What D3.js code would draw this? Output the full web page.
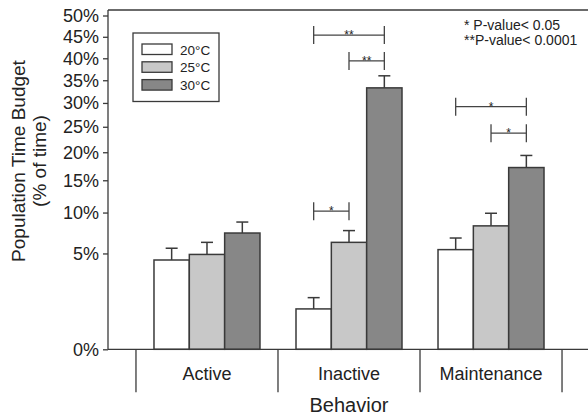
<!DOCTYPE html>
<html>
<head>
<meta charset="utf-8">
<script src="https://cdn.jsdelivr.net/npm/d3@7"></script>
<style>
  body { margin: 0; background: #fff; }
  svg { display: block; font-family: Arial, "Liberation Sans", sans-serif; }
</style>
</head>
<body>
<svg id="chart" width="588" height="419"></svg>
<script>
// behaviour categories and temperature groups
var behaviors = ["Active", "Inactive", "Maintenance"]
var temps = ["20°C", "25°C", "30°C"]
var tempColors = ["#ffffff", "#c8c8c8", "#878787"]

// mean % of time per temperature (one value per behaviour)
var mean20 = [4.35, 0.9, 5.4]
var mean25 = [4.9, 6.2, 8.2]
var mean30 = [7.3, 33.3, 17.2]
// upper error bar end (mean + SE)
var upper20 = [5.55, 1.47, 6.7]
var upper25 = [6.2, 7.6, 9.9]
var upper30 = [8.7, 36.0, 19.4]

var yTicks = [0, 5, 10, 15, 20, 25, 30, 35, 40, 45, 50]

// significance brackets: behaviour, from temp index, to temp index, level (% of time), label
var brackets = [
  {behavior: "Inactive", from: 0, to: 1, level: 10.2, label: "*"},
  {behavior: "Inactive", from: 0, to: 2, level: 45.4, label: "**"},
  {behavior: "Inactive", from: 1, to: 2, level: 39.4, label: "**"},
  {behavior: "Maintenance", from: 0, to: 2, level: 29.2, label: "*"},
  {behavior: "Maintenance", from: 1, to: 2, level: 23.7, label: "*"}
]
var pNotes = ["* P-value< 0.05", "**P-value< 0.0001"]

var means = [mean20, mean25, mean30]
var uppers = [upper20, upper25, upper30]
var bars = []
behaviors.forEach(function(b, i) {
  temps.forEach(function(t, j) {
    bars.push({behavior: b, temp: t, k: j, value: means[j][i], upper: uppers[j][i]})
  })
})

var svg = d3.select("#chart")
var plotLeft = 108, plotRight = 590, plotBottom = 349.3, plotTop = 15.5, frameTop = 10
var ink = "#3a3a3a"

// arcsine square-root scale
var yLin = d3.scaleLinear()
  .domain([0, Math.asin(Math.sqrt(0.5))])
  .range([plotBottom, plotTop])
function y(p) {
  return yLin(Math.asin(Math.sqrt(p / 100)))
}

var x = d3.scaleBand()
  .domain(behaviors)
  .range([plotLeft, plotRight])
  .paddingInner(0)
  .paddingOuter(0.197)

var x1 = d3.scaleBand()
  .domain(d3.range(temps.length))
  .range([0, 106])

var inner = (x.bandwidth() - x1.range()[1]) / 2

// frame
svg.append("line")
  .attr("x1", plotLeft).attr("x2", plotRight)
  .attr("y1", frameTop).attr("y2", frameTop)
  .attr("stroke", ink).attr("stroke-width", 1.3)

// y axis
var yAxis = d3.axisLeft(yLin)
  .tickValues(yTicks.map(function(p) { return Math.asin(Math.sqrt(p / 100)) }))
  .tickFormat(function(t) { return Math.round(Math.pow(Math.sin(t), 2) * 100) + "%" })
  .tickSize(5)
  .tickPadding(4)
  .tickSizeOuter(0)

var yg = svg.append("g")
  .attr("transform", "translate(" + plotLeft + ",0)")
  .call(yAxis)
yg.select(".domain").remove()
yg.selectAll(".tick line").attr("stroke", ink).attr("stroke-width", 1.3)
yg.selectAll(".tick text")
  .attr("font-size", 18)
  .attr("font-family", "Arial, 'Liberation Sans', sans-serif")
  .attr("fill", "#222")
svg.append("line")
  .attr("x1", plotLeft).attr("x2", plotLeft)
  .attr("y1", frameTop).attr("y2", plotBottom)
  .attr("stroke", ink).attr("stroke-width", 1.3)

// bars
svg.append("g")
  .selectAll("rect")
  .data(bars)
  .enter()
  .append("rect")
  .attr("x", function(d) { return x(d.behavior) + inner + x1(d.k) })
  .attr("width", x1.bandwidth())
  .attr("y", function(d) { return y(d.value) })
  .attr("height", function(d) { return plotBottom - y(d.value) })
  .attr("fill", function(d) { return tempColors[d.k] })
  .attr("stroke", ink)
  .attr("stroke-width", 1.5)

// error bars (upper only)
function barCenter(b, k) {
  return x(b) + inner + x1(k) + x1.bandwidth() / 2
}
var eg = svg.append("g")
  .selectAll("g")
  .data(bars)
  .enter()
  .append("g")
  .attr("stroke", ink)
  .attr("stroke-width", 1.5)
eg.append("line")
  .attr("x1", function(d) { return barCenter(d.behavior, d.k) })
  .attr("x2", function(d) { return barCenter(d.behavior, d.k) })
  .attr("y1", function(d) { return y(d.value) })
  .attr("y2", function(d) { return y(d.upper) })
eg.append("line")
  .attr("x1", function(d) { return barCenter(d.behavior, d.k) - 6 })
  .attr("x2", function(d) { return barCenter(d.behavior, d.k) + 6 })
  .attr("y1", function(d) { return y(d.upper) })
  .attr("y2", function(d) { return y(d.upper) })

// x axis line and category separators
svg.append("line")
  .attr("x1", plotLeft).attr("x2", plotRight)
  .attr("y1", plotBottom).attr("y2", plotBottom)
  .attr("stroke", ink).attr("stroke-width", 1.3)

var seps = behaviors.map(function(b) { return x(b) })
seps.push(x(behaviors[behaviors.length - 1]) + x.bandwidth())
svg.append("g")
  .selectAll("line")
  .data(seps)
  .enter()
  .append("line")
  .attr("x1", function(d) { return d }).attr("x2", function(d) { return d })
  .attr("y1", plotBottom).attr("y2", plotBottom + 43)
  .attr("stroke", ink).attr("stroke-width", 1.3)

svg.append("g")
  .selectAll("text")
  .data(behaviors)
  .enter()
  .append("text")
  .attr("x", function(d) { return x(d) + x.bandwidth() / 2 })
  .attr("y", 379.5)
  .attr("text-anchor", "middle")
  .attr("font-size", 18)
  .attr("fill", "#222")
  .text(function(d) { return d })

svg.append("text")
  .attr("x", (seps[0] + seps[seps.length - 1]) / 2)
  .attr("y", 412)
  .attr("text-anchor", "middle")
  .attr("font-size", 20)
  .attr("fill", "#222")
  .text("Behavior")

// y axis title
var yt = svg.append("text")
  .attr("transform", "translate(0,161) rotate(-90)")
  .attr("text-anchor", "middle")
  .attr("font-size", 19)
  .attr("fill", "#222")
yt.append("tspan").attr("x", 0).attr("y", 25).text("Population Time Budget")
yt.append("tspan").attr("x", 0).attr("y", 46).text("(% of time)")

// significance brackets
var bg = svg.append("g")
  .selectAll("g")
  .data(brackets)
  .enter()
  .append("g")
bg.append("path")
  .attr("d", function(d) {
    var x0 = barCenter(d.behavior, d.from), x2 = barCenter(d.behavior, d.to), yy = y(d.level)
    return "M" + x0 + "," + (yy - 9) + "V" + (yy + 9) +
      "M" + x0 + "," + yy + "H" + x2 +
      "M" + x2 + "," + (yy - 9) + "V" + (yy + 9)
  })
  .attr("fill", "none")
  .attr("stroke", "#444")
  .attr("stroke-width", 1.3)
bg.append("text")
  .attr("x", function(d) { return (barCenter(d.behavior, d.from) + barCenter(d.behavior, d.to)) / 2 })
  .attr("y", function(d) { return y(d.level) + 4 })
  .attr("text-anchor", "middle")
  .attr("font-size", 12)
  .attr("fill", "#222")
  .text(function(d) { return d.label })

// p-value notes
svg.append("g")
  .selectAll("text")
  .data(pNotes)
  .enter()
  .append("text")
  .attr("x", 464)
  .attr("y", function(d, i) { return 30 + i * 15 })
  .attr("font-size", 14)
  .attr("fill", "#222")
  .text(function(d) { return d })

// legend
var lg = svg.append("g").attr("transform", "translate(133,33)")
lg.append("rect")
  .attr("width", 86).attr("height", 68.5)
  .attr("fill", "#fff")
  .attr("stroke", ink).attr("stroke-width", 1.3)
var li = lg.selectAll(".item")
  .data(temps)
  .enter()
  .append("g")
  .attr("class", "item")
  .attr("transform", function(d, i) { return "translate(9," + (11 + i * 17.8) + ")" })
li.append("rect")
  .attr("width", 30).attr("height", 10.5)
  .attr("fill", function(d, i) { return tempColors[i] })
  .attr("stroke", ink).attr("stroke-width", 1.3)
li.append("text")
  .attr("x", 38).attr("y", 10.5)
  .attr("font-size", 13.5)
  .attr("fill", "#222")
  .text(function(d) { return d })
</script>
</body>
</html>
